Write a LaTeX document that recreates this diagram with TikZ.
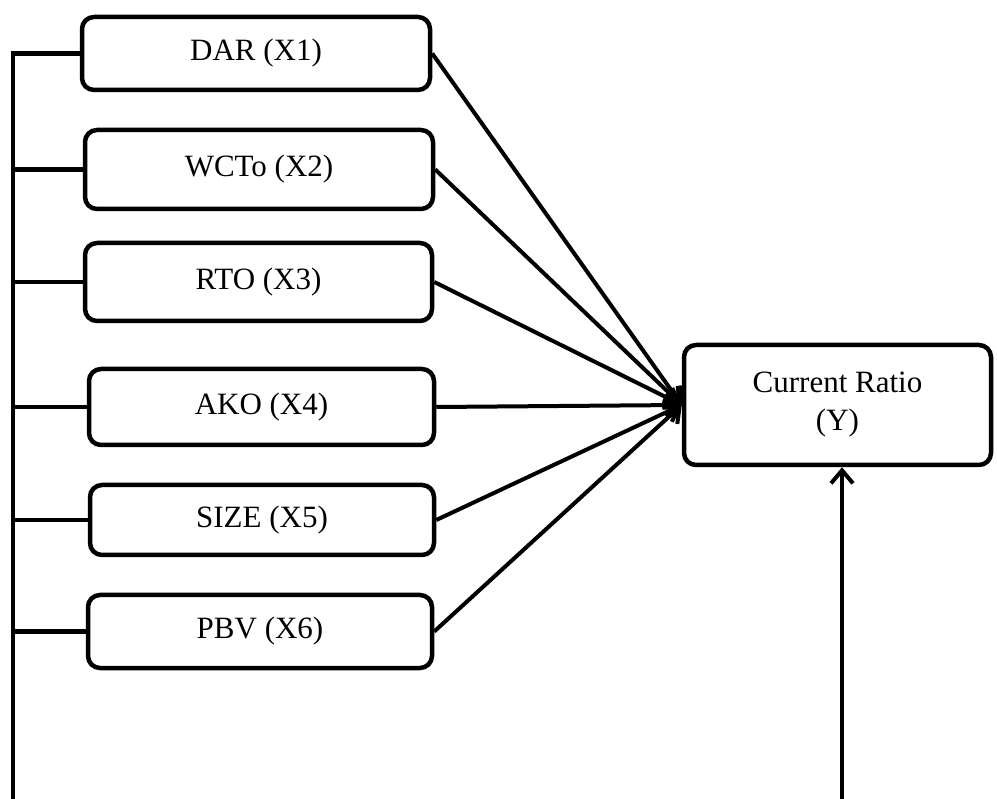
\documentclass[tikz,border=0pt]{standalone}
\usepackage{fontspec}
\setmainfont{Liberation Serif}
\usetikzlibrary{arrows.meta}
\begin{document}
\begin{tikzpicture}[x=1pt,y=-1pt,
  box/.style={draw, line width=4.5pt, rounded corners=12pt, inner sep=0pt, align=center,
    font=\fontsize{31}{38}\selectfont},
  wire/.style={line width=4.5pt},
  arr/.style={line width=4pt, -{Straight Barb[length=13pt,width=22pt,line width=4pt]}}
]
\useasboundingbox (0,0) rectangle (997,799);
\node[box, minimum width=348pt, minimum height=73pt] (x1) at (256,53.5) {DAR (X1)};
\node[box, minimum width=348pt, minimum height=79pt] (x2) at (259,169.5) {WCTo (X2)};
\node[box, minimum width=347pt, minimum height=78pt] (x3) at (258.5,282) {RTO (X3)};
\node[box, minimum width=345pt, minimum height=76pt] (x4) at (261.5,407) {AKO (X4)};
\node[box, minimum width=344pt, minimum height=70pt] (x5) at (262,520) {SIZE (X5)};
\node[box, minimum width=344pt, minimum height=73pt] (x6) at (260,631.5) {PBV (X6)};
\node[box, minimum width=307pt, minimum height=120pt] (y) at (837.5,405) {Current Ratio\\(Y)};
\coordinate (bus) at (13,799);
\coordinate (b) at (842,799);
% bus on the left
\draw[wire] (x1.west) -- (x1.west -| bus) -- (bus);
\foreach \n in {x2,x3,x4,x5,x6}{
  \draw[wire] (\n.west) -- (\n.west -| bus);
}
% fan to Y
\foreach \n in {x1,x2,x3,x4,x5,x6}{
  \draw[arr] (\n.east) -- (y.west);
}
% arrow from below
\draw[arr] (b) -- (b |- y.south);
\end{tikzpicture}
\end{document}
